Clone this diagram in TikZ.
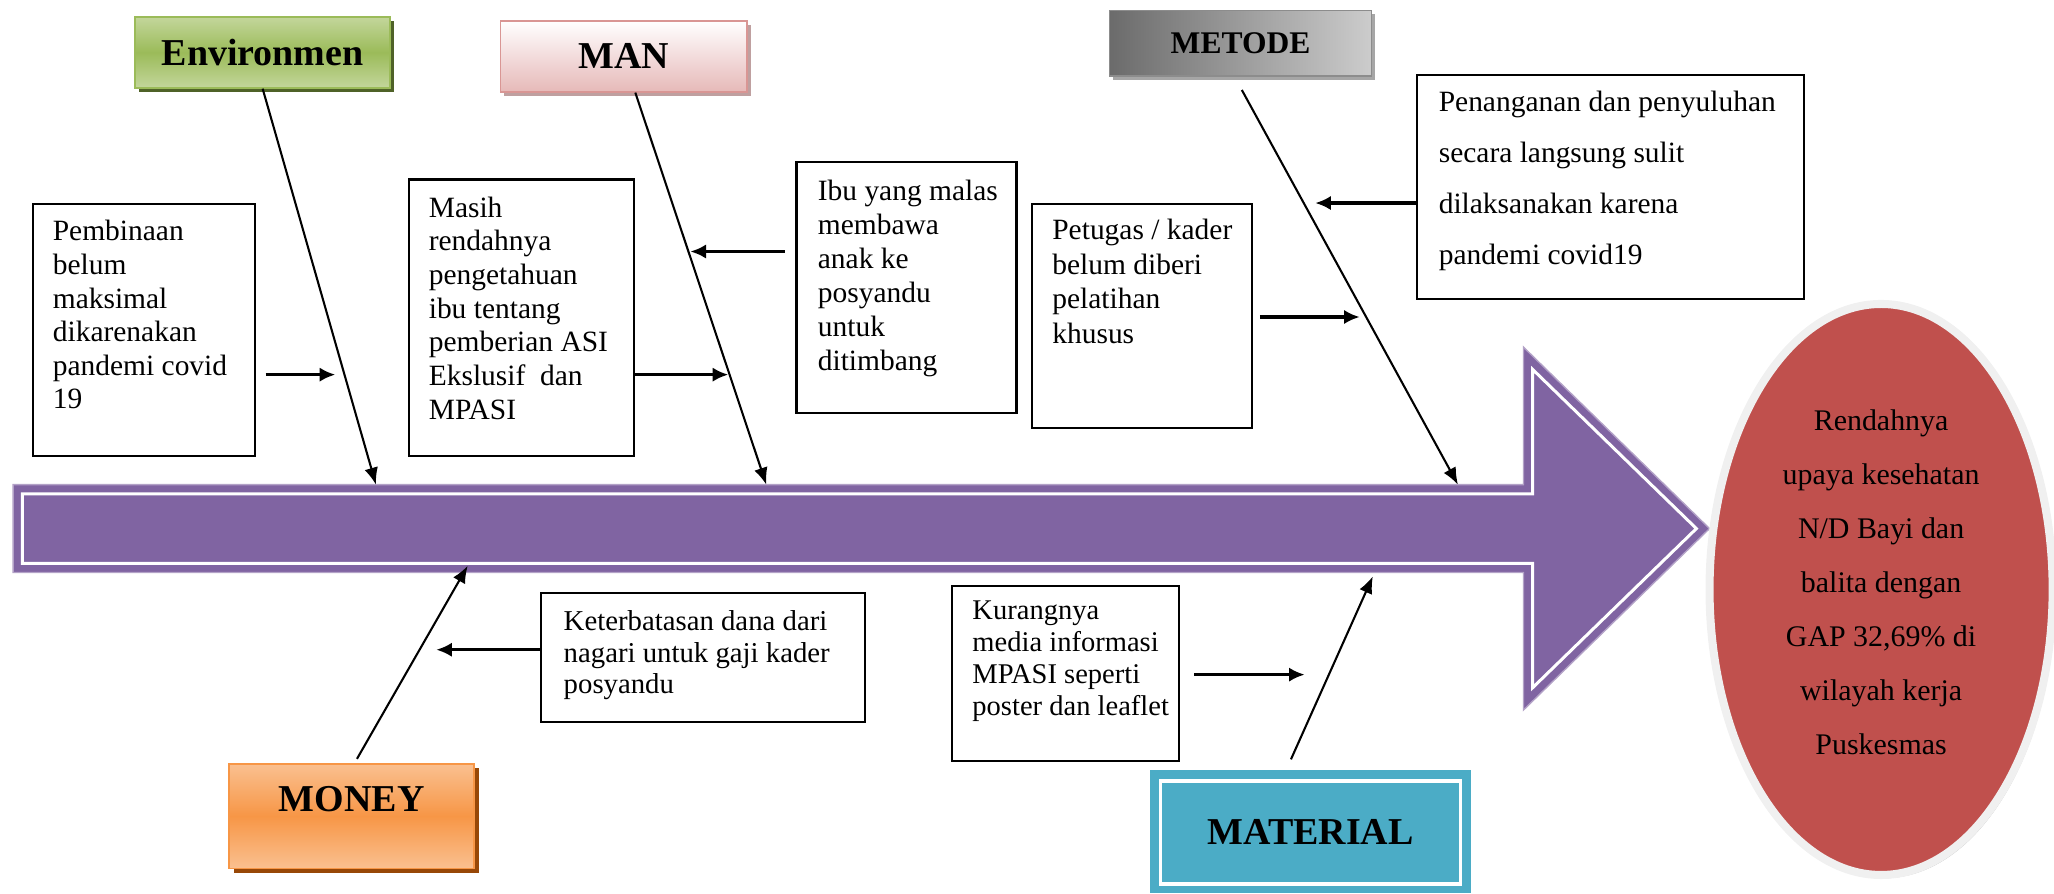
\documentclass[tikz,border=0pt]{standalone}
\usepackage{fontspec}
\setmainfont{Liberation Serif}
\usetikzlibrary{arrows.meta,shapes.geometric,calc,shadows}
\definecolor{envlight}{HTML}{C3D69B}
\definecolor{envmid}{HTML}{9BBB59}
\definecolor{envshadow}{HTML}{4F6228}
\definecolor{manpink}{HTML}{E6B9B8}
\definecolor{manborder}{HTML}{D99694}
\definecolor{manshadow}{HTML}{BFA0A0}
\definecolor{monlight}{HTML}{FAC090}
\definecolor{monmid}{HTML}{F79646}
\definecolor{monshadow}{HTML}{984807}
\definecolor{matteal}{HTML}{4BACC6}
\definecolor{spine}{HTML}{8064A2}
\definecolor{spineedge}{HTML}{B3A2C7}
\definecolor{ellred}{HTML}{C0504D}
\begin{document}
\begin{tikzpicture}[x=0.02cm,y=-0.02cm,
  cbox/.style={draw=black, line width=0.9pt, fill=white, inner sep=0},
  ctext/.style={anchor=north west, inner sep=0, align=left, font=\fontsize{12.8}{14.6}\selectfont},
  bone/.style={line width=0.9pt, -{Latex[length=2.6mm,width=2.1mm]}},
  sub/.style={line width=1.4pt, -{Latex[length=2.4mm,width=2.2mm]}},
  lbl/.style={font=\bfseries\fontsize{16.5}{18}\selectfont, inner sep=0}
]
\useasboundingbox (0,0) rectangle (1568,682);

% spine arrow
\filldraw[fill=spine, draw=spineedge, line width=0.6pt]
  (10,370) -- (1163,370) -- (1163,265) -- (1305,403.5) -- (1163,542) -- (1163,437) -- (10,437) -- cycle;
\draw[white, line width=1.3pt]
  (17,377) -- (1170,377) -- (1170,282) -- (1295,403.5) -- (1170,525) -- (1170,430) -- (17,430) -- cycle;

% category labels
\node[lbl, draw=envmid, line width=0.8pt, top color=envlight, bottom color=envlight, middle color=envmid,
  minimum width=3.9cm, minimum height=1.08cm,
  drop shadow={shadow xshift=0.06cm, shadow yshift=-0.06cm, fill=envshadow, opacity=1}]
  (env) at (200.5,40) {Environmen};
\node[lbl, draw=manborder, line width=0.8pt, top color=white, bottom color=manpink,
  minimum width=3.76cm, minimum height=1.08cm,
  drop shadow={shadow xshift=0.06cm, shadow yshift=-0.06cm, fill=manshadow, opacity=1}]
  (man) at (476,43) {MAN};
\node[lbl, font=\bfseries\fontsize{13.7}{16}\selectfont, draw=black!45, line width=0.8pt,
  left color=black!58, right color=black!20,
  minimum width=4.0cm, minimum height=1.0cm,
  drop shadow={shadow xshift=0.06cm, shadow yshift=-0.06cm, fill=black!35, opacity=1}]
  (met) at (947,33) {METODE};
\node[draw=monmid, line width=0.8pt, top color=monlight, bottom color=monlight, middle color=monmid,
  minimum width=3.74cm, minimum height=1.6cm, inner sep=0,
  drop shadow={shadow xshift=0.07cm, shadow yshift=-0.07cm, fill=monshadow, opacity=1},
  label={[lbl, yshift=0.26cm]center:MONEY}]
  (mon) at (268.5,623) {};
\node[lbl, fill=matteal, minimum width=4.9cm, minimum height=1.88cm] (mat) at (1000.5,635) {MATERIAL};
\draw[white, line width=1.6pt] (886,596) rectangle (1115,675);

% effect
\node[ellipse, fill=ellred, draw=black!6, line width=3.5pt, minimum width=5.24cm, minimum height=8.72cm,
  inner sep=0,
  drop shadow={shadow xshift=0.04cm, shadow yshift=-0.05cm, fill=black!40, opacity=0.6},
  label={[align=center, font=\fontsize{13}{23.4}\selectfont, yshift=0.11cm]center:{Rendahnya\\upaya kesehatan\\N/D Bayi dan\\balita dengan\\GAP 32,69\% di\\wilayah kerja\\Puskesmas}}]
  (res) at (1436,450) {};

% cause boxes
\node[cbox, minimum width=3.4cm, minimum height=3.84cm] (pemb) at (110,252) {};
\node[ctext] at (40,168) {Pembinaan\\belum\\maksimal\\dikarenakan\\pandemi covid\\19};

\node[cbox, minimum width=3.44cm, minimum height=4.22cm] (masih) at (398,242.5) {};
\node[ctext] at (327,150) {Masih\\rendahnya\\pengetahuan\\ibu tentang\\pemberian ASI\\Ekslusif\ \ dan\\MPASI};

\node[cbox, minimum width=3.36cm, minimum height=3.82cm] (ibu) at (692,219.5) {};
\node[ctext, font=\fontsize{12.8}{14.8}\selectfont] at (624,137) {Ibu yang malas\\membawa\\anak ke\\posyandu\\untuk\\ditimbang};

\node[cbox, minimum width=3.36cm, minimum height=3.42cm] (pet) at (872,241.5) {};
\node[ctext, font=\fontsize{12.8}{15}\selectfont] at (803,167) {Petugas / kader\\belum diberi\\pelatihan\\khusus};

\node[cbox, minimum width=5.9cm, minimum height=3.42cm] (pen) at (1229.5,142.5) {};
\node[ctext, font=\fontsize{12.8}{22.2}\selectfont] at (1098,69) {Penanganan dan penyuluhan\\secara langsung sulit\\dilaksanakan karena\\pandemi covid19};

\node[cbox, minimum width=4.94cm, minimum height=1.96cm] (ket) at (536.5,502) {};
\node[ctext, font=\fontsize{12.5}{13.6}\selectfont] at (430,466) {Keterbatasan dana dari\\nagari untuk gaji kader\\posyandu};

\node[cbox, minimum width=3.46cm, minimum height=2.68cm] (kur) at (813.5,514) {};
\node[ctext, font=\fontsize{12.4}{13.9}\selectfont] at (742,458) {Kurangnya\\media informasi\\MPASI seperti\\poster dan leaflet};

% bone end points on the spine
\coordinate (eE) at (287,370);
\coordinate (mE) at (585,370);
\coordinate (tE) at (1113,370);
\coordinate (moE) at (357,432);
\coordinate (maE) at (1048,440);
% sub-cause arrow tips
\coordinate (a1) at (256,286);
\coordinate (a2) at (556,286);
\coordinate (a3) at (527,192);
\coordinate (a4) at (1038,242);
\coordinate (a5) at (1004,155);
\coordinate (a6) at (333,496);
\coordinate (a7) at (996,515);

% bones
\draw[bone] (env.south) -- (eE);
\draw[bone] ($(man.south)+(9,0)$) -- (mE);
\draw[bone] ($(met.south)+(1,10)$) -- (tE);
\draw[bone] ($(mon.north)+(4,-3)$) -- (moE);
\draw[bone] ($(mat.north)+(-15,-8)$) -- (maE);

% sub-cause arrows
\draw[sub, shorten <=0.14cm] (pemb.east |- a1) -- (a1);
\draw[sub] (masih.east |- a2) -- (a2);
\draw[sub, shorten <=0.16cm] (ibu.west |- a3) -- (a3);
\draw[sub, shorten <=0.1cm] (pet.east |- a4) -- (a4);
\draw[sub] (pen.west |- a5) -- (a5);
\draw[sub] (ket.west |- a6) -- (a6);
\draw[sub, shorten <=0.22cm] (kur.east |- a7) -- (a7);
\end{tikzpicture}
\end{document}
